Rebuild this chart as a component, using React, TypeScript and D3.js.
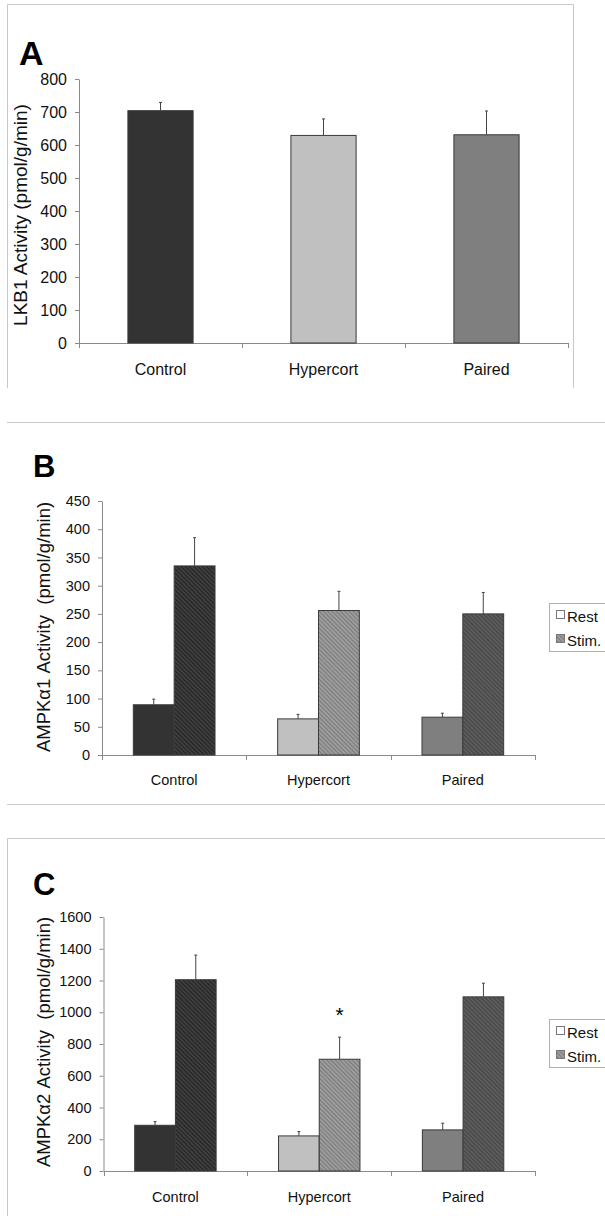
import React, { useEffect, useRef } from "react";
import * as d3 from "d3";

const categories = ["Control", "Hypercort", "Paired"];

// panel A - LKB1
const lkb1Mean = [704, 629, 631];
const lkb1Err = [25, 50, 72];
const lkb1Ticks = [0, 100, 200, 300, 400, 500, 600, 700, 800];

// panel B - AMPK alpha1
const a1Rest = [89, 64, 67];
const a1RestErr = [10, 8, 7];
const a1Stim = [335, 256, 250];
const a1StimErr = [50, 34, 38];
const a1Ticks = [0, 50, 100, 150, 200, 250, 300, 350, 400, 450];

// panel C - AMPK alpha2
const a2Rest = [288, 221, 259];
const a2RestErr = [23, 27, 42];
const a2Stim = [1205, 704, 1097];
const a2StimErr = [155, 139, 86];
const a2Ticks = [0, 200, 400, 600, 800, 1000, 1200, 1400, 1600];

const legendLabels = ["Rest", "Stim."];

const restColors = ["#333333", "#c0c0c0", "#7f7f7f"];
const stimColors = ["#3e3e3e", "#9c9c9c", "#5c5c5c"];
const stimLines = ["#222222", "#7a7a7a", "#444444"];

const FONT = "Arial, 'Liberation Sans', sans-serif";

function drawAxes(g, x, y, ticks, fs, labelDy) {
  // y axis
  const ya = g.append("g").attr("transform", `translate(${x.range()[0]},0)`)
    .call(d3.axisLeft(y).tickValues(ticks).tickFormat(d3.format("d")).tickSize(4).tickSizeOuter(0).tickPadding(8));
  ya.select(".domain").attr("stroke", "#8a8a8a");
  ya.selectAll(".tick line").attr("stroke", "#8a8a8a");
  ya.selectAll("text").attr("font-size", fs).attr("font-family", FONT).attr("fill", "#111");

  // x axis line + boundary ticks
  const y0 = y(0);
  const [x0, x1] = x.range();
  g.append("line").attr("x1", x0).attr("x2", x1).attr("y1", y0 + 0.5).attr("y2", y0 + 0.5).attr("stroke", "#8a8a8a");
  const bounds = categories.map((c) => x(c)).concat([x1]);
  g.selectAll(".xtick").data(bounds).join("line").attr("class", "xtick")
    .attr("x1", (d) => Math.round(d) + 0.5).attr("x2", (d) => Math.round(d) + 0.5)
    .attr("y1", y0).attr("y2", y0 + 5).attr("stroke", "#8a8a8a");

  g.selectAll(".xlab").data(categories).join("text").attr("class", "xlab")
    .attr("x", (d) => x(d) + x.bandwidth() / 2).attr("y", y0 + labelDy)
    .attr("text-anchor", "middle").attr("font-size", fs).attr("font-family", FONT).attr("fill", "#111")
    .text((d) => d);
}

function drawErr(g, cx, yTop, yErr) {
  g.append("line").attr("x1", cx).attr("x2", cx).attr("y1", yTop).attr("y2", yErr).attr("stroke", "#444");
  g.append("line").attr("x1", cx - 1.5).attr("x2", cx + 1.5).attr("y1", yErr).attr("y2", yErr).attr("stroke", "#444");
}

function drawGrouped(g, x, y, rest, restErr, stim, stimErr) {
  const bw = x.bandwidth() * 0.283;
  categories.forEach((c, i) => {
    const cx = x(c) + x.bandwidth() / 2;
    g.append("rect").attr("x", cx - bw).attr("y", y(rest[i])).attr("width", bw).attr("height", y(0) - y(rest[i]))
      .attr("fill", restColors[i]).attr("stroke", "#3a3a3a");
    g.append("rect").attr("x", cx).attr("y", y(stim[i])).attr("width", bw).attr("height", y(0) - y(stim[i]))
      .attr("fill", `url(#hatch${i})`).attr("stroke", "#3a3a3a");
    drawErr(g, cx - bw / 2, y(rest[i]), y(rest[i] + restErr[i]));
    drawErr(g, cx + bw / 2, y(stim[i]), y(stim[i] + stimErr[i]));
  });
}

function drawLegend(g, x, y) {
  g.append("rect").attr("x", x + 0.5).attr("y", y + 0.5).attr("width", 56).attr("height", 48)
    .attr("fill", "#fff").attr("stroke", "#b0b0b0");
  legendLabels.forEach((l, i) => {
    g.append("rect").attr("x", x + 7.5).attr("y", y + 7.5 + i * 24).attr("width", 8).attr("height", 8)
      .attr("fill", i === 0 ? "#fff" : "url(#hatch1)").attr("stroke", "#777");
    g.append("text").attr("x", x + 18).attr("y", y + 19 + i * 24).attr("font-size", 15)
      .attr("font-family", FONT).attr("fill", "#111").text(l);
  });
}

function yLabel(g, x, y, text, fs) {
  g.append("text").attr("transform", `translate(${x},${y}) rotate(-90)`).attr("text-anchor", "middle")
    .attr("font-size", fs).attr("font-family", FONT).attr("fill", "#111")
    .style("white-space", "pre").text(text);
}

export default function App() {
  const ref = useRef(null);

  useEffect(() => {
    const svg = d3.select(ref.current);
    svg.selectAll("*").remove();

    const defs = svg.append("defs");
    stimColors.forEach((col, i) => {
      const p = defs.append("pattern").attr("id", `hatch${i}`).attr("patternUnits", "userSpaceOnUse")
        .attr("width", 3).attr("height", 3).attr("patternTransform", "rotate(-45)");
      p.append("rect").attr("width", 3).attr("height", 3).attr("fill", col);
      p.append("line").attr("x1", 0.5).attr("x2", 0.5).attr("y1", 0).attr("y2", 3).attr("stroke", stimLines[i]).attr("stroke-width", 1);
    });

    // frames and separators
    svg.append("path").attr("d", "M7.5,388 V4.5 H573.5 V388").attr("fill", "none").attr("stroke", "#c8c8c8");
    svg.append("line").attr("x1", 7).attr("x2", 605).attr("y1", 422.5).attr("y2", 422.5).attr("stroke", "#c8c8c8");
    svg.append("line").attr("x1", 7).attr("x2", 605).attr("y1", 804.5).attr("y2", 804.5).attr("stroke", "#c8c8c8");
    svg.append("path").attr("d", "M7.5,1216 V838.5 H605").attr("fill", "none").attr("stroke", "#c8c8c8");

    // ---- panel A
    const gA = svg.append("g");
    const xA = d3.scaleBand().domain(categories).range([79, 568]);
    const yA = d3.scaleLinear().domain([0, 800]).range([343, 79]);
    drawAxes(gA, xA, yA, lkb1Ticks, 16, 32);
    const bwA = xA.bandwidth() * 0.4;
    gA.selectAll(".bar").data(categories).join("rect").attr("class", "bar")
      .attr("x", (d) => xA(d) + (xA.bandwidth() - bwA) / 2).attr("y", (d, i) => yA(lkb1Mean[i]))
      .attr("width", bwA).attr("height", (d, i) => yA(0) - yA(lkb1Mean[i]))
      .attr("fill", (d, i) => restColors[i]).attr("stroke", "#3a3a3a");
    categories.forEach((c, i) => drawErr(gA, xA(c) + xA.bandwidth() / 2, yA(lkb1Mean[i]), yA(lkb1Mean[i] + lkb1Err[i])));
    yLabel(gA, 27, 215, "LKB1 Activity (pmol/g/min)", 19);
    gA.append("text").attr("x", 19).attr("y", 65).attr("font-size", 34).attr("font-weight", "bold")
      .attr("font-family", FONT).text("A");

    // ---- panel B
    const gB = svg.append("g");
    const xB = d3.scaleBand().domain(categories).range([102, 535]);
    const yB = d3.scaleLinear().domain([0, 450]).range([755, 501]);
    drawAxes(gB, xB, yB, a1Ticks, 14.5, 30);
    drawGrouped(gB, xB, yB, a1Rest, a1RestErr, a1Stim, a1StimErr);
    yLabel(gB, 50, 627, "AMPK\u03b11 Activity  (pmol/g/min)", 18.5);
    drawLegend(gB, 549, 603);
    gB.append("text").attr("x", 33).attr("y", 477).attr("font-size", 31).attr("font-weight", "bold")
      .attr("font-family", FONT).text("B");

    // ---- panel C
    const gC = svg.append("g");
    const xC = d3.scaleBand().domain(categories).range([103.5, 535]);
    const yC = d3.scaleLinear().domain([0, 1600]).range([1171, 917]);
    drawAxes(gC, xC, yC, a2Ticks, 14.5, 31);
    drawGrouped(gC, xC, yC, a2Rest, a2RestErr, a2Stim, a2StimErr);
    yLabel(gC, 50, 1042, "AMPK\u03b12 Activity  (pmol/g/min)", 18.5);
    drawLegend(gC, 549, 1019);
    gC.append("text").attr("x", 33).attr("y", 895).attr("font-size", 31).attr("font-weight", "bold")
      .attr("font-family", FONT).text("C");
    // significance marker over Hypercort stim
    const bwC = xC.bandwidth() * 0.283;
    gC.append("text").attr("x", xC("Hypercort") + xC.bandwidth() / 2 + bwC / 2).attr("y", 1022)
      .attr("text-anchor", "middle").attr("font-size", 21).attr("font-family", FONT).text("*");
  }, []);

  return (
    <svg ref={ref} width={605} height={1216}
      style={{ position: "absolute", left: 0, top: 0, background: "#fff" }} />
  );
}
